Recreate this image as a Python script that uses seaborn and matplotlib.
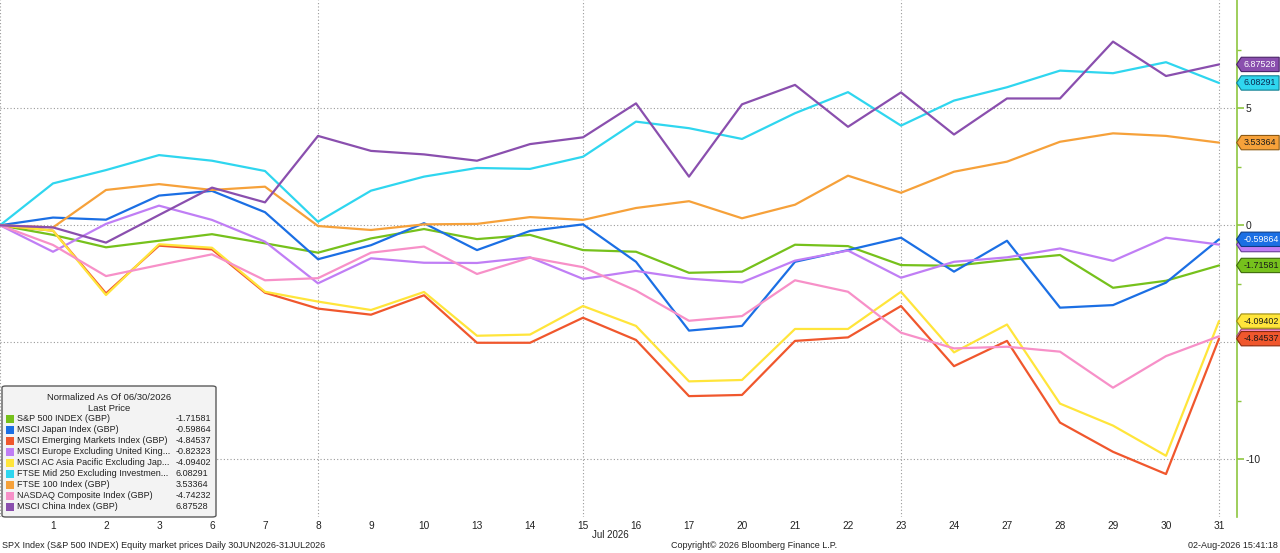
import numpy as np
import pandas as pd
import matplotlib
matplotlib.use("Agg")
import matplotlib.pyplot as plt
import seaborn as sns
from matplotlib.path import Path
from matplotlib.patches import FancyBboxPatch, Rectangle
from matplotlib.ticker import MultipleLocator

# ---------------- data ----------------
day_labels = ["30", "1", "2", "3", "6", "7", "8", "9", "10", "13", "14", "15", "16",
              "17", "20", "21", "22", "23", "24", "27", "28", "29", "30", "31"]

series_names = [
    "S&P 500 INDEX (GBP)",
    "MSCI Japan Index (GBP)",
    "MSCI Emerging Markets Index (GBP)",
    "MSCI Europe Excluding United King...",
    "MSCI AC Asia Pacific Excluding Jap...",
    "FTSE Mid 250 Excluding Investmen...",
    "FTSE 100 Index (GBP)",
    "NASDAQ Composite Index (GBP)",
    "MSCI China Index (GBP)",
]

sp500 = [0, -0.41, -0.94, -0.66, -0.38, -0.77, -1.17, -0.56, -0.16, -0.59, -0.41, -1.06,
         -1.13, -2.03, -1.98, -0.83, -0.89, -1.70, -1.73, -1.48, -1.27, -2.67, -2.37, -1.71581]
japan = [0, 0.33, 0.24, 1.27, 1.47, 0.56, -1.45, -0.85, 0.09, -1.06, -0.24, 0.04,
         -1.56, -4.50, -4.30, -1.56, -1.06, -0.53, -1.98, -0.66, -3.52, -3.41, -2.45, -0.59864]
emerging = [0, -0.23, -2.91, -0.87, -1.03, -2.88, -3.56, -3.82, -2.99, -5.02, -5.02, -3.95,
            -4.90, -7.30, -7.25, -4.94, -4.79, -3.45, -6.02, -4.94, -8.43, -9.68, -10.63, -4.84537]
europe_ex_uk = [0, -1.13, 0.06, 0.84, 0.23, -0.70, -2.48, -1.41, -1.60, -1.61, -1.37, -2.29,
                -1.95, -2.28, -2.44, -1.51, -1.08, -2.24, -1.56, -1.37, -0.99, -1.52, -0.53, -0.82323]
asia_pac_ex_jp = [0, -0.23, -2.98, -0.81, -0.96, -2.84, -3.26, -3.62, -2.85, -4.72, -4.67, -3.45,
                  -4.30, -6.67, -6.61, -4.43, -4.43, -2.84, -5.43, -4.24, -7.62, -8.56, -9.85, -4.09402]
ftse250 = [0, 1.79, 2.36, 3.00, 2.76, 2.32, 0.15, 1.48, 2.08, 2.45, 2.41, 2.93,
           4.43, 4.15, 3.69, 4.79, 5.69, 4.26, 5.33, 5.90, 6.61, 6.50, 6.97, 6.08291]
ftse100 = [0, -0.09, 1.51, 1.76, 1.51, 1.65, -0.03, -0.20, 0.04, 0.06, 0.35, 0.23,
           0.74, 1.03, 0.30, 0.88, 2.12, 1.39, 2.29, 2.72, 3.57, 3.93, 3.82, 3.53364]
nasdaq = [0, -0.84, -2.17, -1.70, -1.24, -2.35, -2.26, -1.17, -0.91, -2.08, -1.38, -1.79,
          -2.79, -4.08, -3.88, -2.35, -2.84, -4.59, -5.26, -5.19, -5.40, -6.94, -5.59, -4.74232]
china = [0, -0.09, -0.74, 0.44, 1.61, 0.98, 3.82, 3.18, 3.03, 2.76, 3.47, 3.76,
         5.21, 2.08, 5.17, 6.00, 4.21, 5.68, 3.88, 5.42, 5.42, 7.85, 6.38, 6.87528]

all_values = [sp500, japan, emerging, europe_ex_uk, asia_pac_ex_jp, ftse250, ftse100, nasdaq, china]

grid_day_positions = [0, 6, 11, 17, 23]   # 30 Jun, 8, 15, 23, 31 Jul
y_ticks = [-10, -5, 0, 5]
month_label = "Jul 2026"
legend_title = "Normalized As Of 06/30/2026"
legend_sub = "Last Price"
footer_left = "SPX Index (S&P 500 INDEX) Equity market prices Daily 30JUN2026-31JUL2026"
footer_mid = "Copyright\u00a9 2026 Bloomberg Finance L.P."
footer_right = "02-Aug-2026 15:41:18"

# ---------------- style ----------------
colors = ["#76c11c", "#1b6fe4", "#f0572d", "#c07ef5", "#ffe53b",
          "#2fd6ef", "#f6a13a", "#f790c8", "#8a4fae"]
edge_colors = ["#3d6a0a", "#0d3c85", "#8a2a10", "#6a3a9a", "#9a8a10",
               "#137f90", "#8d5a14", "#9a4a78", "#4a2366"]
tag_text = ["#1a1a1a", "white", "#1a1a1a", "#1a1a1a", "#1a1a1a",
            "#0a2a50", "#1a1a1a", "#1a1a1a", "white"]
tag_z = [6, 7, 7, 5, 6, 6, 6, 5, 6]

sns.set_style("white")
plt.rcParams["font.family"] = ["Liberation Sans", "DejaVu Sans"]
plt.rcParams["axes.unicode_minus"] = False

W, H = 1280, 553
fig = plt.figure(figsize=(W / 100, H / 100), dpi=100)
ax_l, ax_r, ax_t, ax_b = 0, 1237, 0, 517
ax = fig.add_axes([ax_l / W, 1 - ax_b / H, (ax_r - ax_l) / W, (ax_b - ax_t) / H])

rows = []
for name, vals in zip(series_names, all_values):
    for i, v in enumerate(vals):
        rows.append({"idx": i, "value": v, "series": name})
df = pd.DataFrame(rows)

sns.lineplot(data=df, x="idx", y="value", hue="series", hue_order=series_names,
             palette=colors, estimator=None, legend=False, linewidth=1.6, ax=ax,
             zorder=3)

px_per_day = 53.0
ax.set_xlim(0, (ax_r - ax_l) / px_per_day)
ax.set_ylim((225.3 - ax_b) / 23.4, 225.3 / 23.4)

for s in ["top", "left", "bottom"]:
    ax.spines[s].set_visible(False)
ax.spines["right"].set_color("#8dc63f")
ax.spines["right"].set_linewidth(1.2)

ax.yaxis.tick_right()
ax.set_yticks(y_ticks)
ax.yaxis.set_minor_locator(MultipleLocator(2.5))
ax.tick_params(axis="y", which="major", colors="#8dc63f", length=5, width=1.2,
               labelcolor="#222222", labelsize=7.5, pad=1)
ax.tick_params(axis="y", which="minor", colors="#8dc63f", length=3, width=1)
ax.grid(axis="y", which="major", linestyle=(0, (1, 2)), color="#9a9a9a", linewidth=0.8)

for idx in grid_day_positions:
    ax.axvline(idx, linestyle=(0, (1, 2)), color="#9a9a9a", linewidth=0.8, zorder=1)

ax.set_xticks(range(1, len(day_labels)))
ax.set_xticklabels(day_labels[1:])
ax.tick_params(axis="x", length=0, labelsize=7.3, labelcolor="#222222", pad=3)
ax.set_xlabel("")
ax.set_ylabel("")

fig.text(610 / W, 1 - 535 / H, month_label, ha="center", va="center",
         fontsize=7, color="#222222")


# ---------------- value tags ----------------
def tag_box(x0, y0, width, height, mutation_size):
    pad = 0.3 * mutation_size
    x0, y0 = x0 - pad, y0 - pad
    w, h = width + 2 * pad, height + 2 * pad
    tip = h * 0.33
    verts = [(x0 - tip, y0 + h / 2), (x0, y0 + h), (x0 + w, y0 + h),
             (x0 + w, y0), (x0, y0), (x0 - tip, y0 + h / 2)]
    return Path(verts, closed=True)


for vals, c, ec, tc, z in zip(all_values, colors, edge_colors, tag_text, tag_z):
    v = vals[-1]
    ax.annotate(f"{v:.5f}", xy=(1, v), xycoords=("axes fraction", "data"),
                xytext=(7, 0), textcoords="offset pixels", ha="left", va="center",
                fontsize=6.4, color=tc, annotation_clip=False, zorder=z,
                bbox=dict(boxstyle=tag_box, fc=c, ec=ec, lw=0.8))

# ---------------- legend box ----------------
lx0, ly0, lx1, ly1 = 2, 386, 216, 517
box = FancyBboxPatch((lx0 / W, 1 - ly1 / H), (lx1 - lx0) / W, (ly1 - ly0) / H,
                     boxstyle="round,pad=0,rounding_size=0.003",
                     transform=fig.transFigure, fc="#f3f3f3", ec="#5a5a5a", lw=1.0,
                     zorder=10)
fig.add_artist(box)
fig.text((lx0 + lx1) / 2 / W, 1 - 397.3 / H, legend_title, ha="center", va="center",
         fontsize=6.8, color="#222222", zorder=11)
fig.text((lx0 + lx1) / 2 / W, 1 - 408.5 / H, legend_sub, ha="center", va="center",
         fontsize=6.8, color="#222222", zorder=11)
row0, row_step = 418.8, 11.0
for k, (name, vals, c) in enumerate(zip(series_names, all_values, colors)):
    yc = row0 + k * row_step
    fig.add_artist(Rectangle((6 / W, 1 - (yc + 4) / H), 8 / W, 8 / H,
                             transform=fig.transFigure, fc=c, ec="none", zorder=11))
    fig.text(17 / W, 1 - yc / H, name, ha="left", va="center", fontsize=6.5,
             color="#222222", zorder=11)
    fig.text(176 / W, 1 - yc / H, f"{vals[-1]:.5f}", ha="left", va="center",
             fontsize=6.5, color="#222222", zorder=11)

# ---------------- footer ----------------
fig.text(2 / W, 1 - 546 / H, footer_left, ha="left", va="center", fontsize=6.5, color="#222222")
fig.text(671 / W, 1 - 546 / H, footer_mid, ha="left", va="center", fontsize=6.5, color="#222222")
fig.text(1278 / W, 1 - 546 / H, footer_right, ha="right", va="center", fontsize=6.5, color="#222222")

fig.savefig("out.png", dpi=100, facecolor="white")
